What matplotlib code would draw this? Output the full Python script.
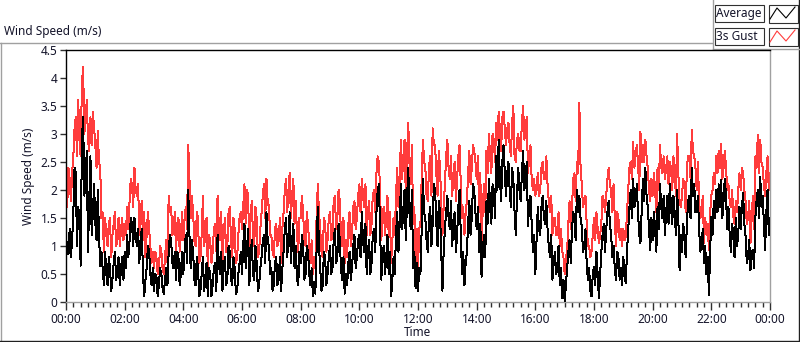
import numpy as np
import matplotlib
matplotlib.use("Agg")
import matplotlib.pyplot as plt
from matplotlib.patches import Rectangle
from matplotlib.ticker import MultipleLocator, FixedLocator

plt.rcParams['font.family'] = ['Noto Sans', 'DejaVu Sans']

# ---- data: samples on the 5-minute marks ----
avg_on_mark = [
    1.2, 0.85, 0.8, 1.6, 2.3, 1.7, 0.65, 3.3, 2.2, 0.9, 2.6, 1.6,
    1.4, 2.0, 0.65, 0.6, 0.9, 0.3, 0.6, 0.4, 0.9, 0.5, 0.3, 0.8,
    0.9, 1.2, 1.1, 1.4, 1.5, 1.0, 0.7, 1.3, 0.1, 0.6, 0.9, 0.3,
    0.2, 0.45, 0.3, 0.5, 0.15, 0.6, 0.9, 1.1, 0.6, 0.4, 0.8, 0.5,
    0.5, 1.2, 2.0, 0.6, 0.9, 0.3, 0.6, 0.2, 0.8, 0.4, 0.1, 0.5,
    0.3, 0.7, 1.2, 0.5, 0.2, 0.8, 0.4, 0.9, 0.3, 0.6, 0.2, 0.7,
    0.5, 1.4, 0.9, 0.3, 1.1, 0.4, 0.7, 0.3, 0.8, 1.2, 1.6, 1.0,
    0.6, 0.3, 0.8, 0.4, 0.2, 0.9, 1.5, 1.2, 0.7, 1.4, 1.0, 0.3,
    0.7, 1.0, 0.5, 0.9, 0.3, 0.1, 0.15, 1.7, 0.6, 0.3, 0.8, 0.5,
    1.0, 0.6, 1.3, 0.8, 1.1, 0.4, 0.15, 0.3, 0.9, 0.6, 1.2, 0.8,
    1.2, 1.6, 0.9, 0.5, 1.1, 0.7, 1.3, 1.6, 2.1, 0.4, 1.0, 0.8,
    0.5, 0.1, 0.8, 1.2, 0.9, 2.1, 1.6, 1.1, 2.4, 1.3, 0.6, 0.25,
    0.2, 0.5, 2.2, 1.5, 0.9, 1.7, 1.4, 2.0, 1.0, 1.6, 0.2, 1.3,
    1.9, 1.3, 1.0, 1.6, 1.2, 2.0, 0.5, 0.3, 0.9, 1.8, 1.5, 2.0,
    1.3, 0.9, 0.45, 1.2, 1.8, 2.2, 1.4, 2.0, 2.6, 2.9, 1.8, 2.8,
    1.9, 2.5, 1.7, 2.2, 1.2, 2.4, 1.8, 2.7, 2.2, 1.35, 1.9, 0.9,
    0.5, 1.7, 1.2, 1.9, 1.4, 1.3, 0.8, 0.4, 0.9, 0.6, 0.3, 0.07,
    0.0, 0.6, 1.1, 1.3, 1.5, 2.0, 1.9, 1.35, 1.0, 0.7, 0.6, 0.1,
    0.63, 0.9, 0.07, 0.9, 1.4, 1.3, 1.8, 1.2, 1.0, 0.39, 0.8, 0.6,
    0.8, 0.33, 1.3, 2.0, 2.2, 1.8, 1.6, 1.05, 2.2, 2.4, 1.7, 0.93,
    1.1, 1.3, 1.7, 2.1, 1.5, 1.2, 1.9, 2.1, 1.4, 1.6, 2.0, 0.57,
    0.9, 1.2, 1.4, 1.9, 2.4, 2.1, 1.6, 1.3, 1.0, 0.69, 0.5, 0.13,
    1.52, 1.8, 2.0, 2.1, 2.18, 1.8, 1.9, 1.7, 0.9, 1.17, 1.5, 1.2,
    1.3, 1.94, 1.17, 0.8, 0.57, 0.93, 1.5, 2.0, 2.24, 1.9, 0.93, 2.0, 1.5,
]
# readings half-way between the 5-minute marks
avg_between = [
    0.9, 1.3, 1.1, 2.4, 1.0, 1.5, 2.9, 1.9, 2.7, 1.8, 1.2, 2.1,
    1.1, 1.2, 0.9, 0.3, 0.5, 0.8, 0.2, 0.7, 0.4, 0.8, 0.6, 0.4,
    0.6, 0.8, 1.5, 1.0, 1.2, 1.3, 1.1, 0.5, 0.4, 1.0, 0.5, 0.6,
    0.5, 0.1, 0.6, 0.25, 0.4, 0.3, 1.2, 0.7, 0.9, 0.9, 0.3, 0.9,
    0.9, 0.7, 1.2, 1.1, 0.4, 0.8, 0.1, 0.5, 0.2, 0.7, 0.6, 0.1,
    0.6, 0.2, 0.7, 0.9, 0.6, 0.3, 1.0, 0.4, 0.8, 0.15, 0.5, 0.9,
    1.0, 0.6, 1.3, 0.8, 0.5, 1.0, 0.2, 0.6, 1.1, 0.7, 1.1, 0.5,
    0.2, 0.7, 0.3, 0.8, 0.6, 1.3, 0.8, 1.6, 1.1, 0.6, 0.4, 0.9,
    1.2, 0.4, 1.0, 0.5, 0.6, 0.35, 0.9, 1.0, 0.2, 0.9, 0.3, 0.8,
    0.5, 1.1, 0.7, 1.4, 0.6, 0.8, 0.5, 0.7, 0.4, 1.0, 0.6, 1.1,
    0.8, 1.1, 1.4, 0.9, 0.5, 1.2, 0.9, 2.0, 1.3, 0.9, 0.5, 1.2,
    0.9, 0.4, 0.5, 1.6, 1.4, 1.3, 2.0, 1.8, 1.6, 2.0, 0.9, 0.7,
    0.6, 1.3, 1.6, 1.1, 1.5, 1.0, 2.1, 1.4, 1.8, 0.9, 0.9, 1.6,
    1.5, 1.8, 1.4, 0.9, 1.7, 1.2, 0.9, 0.7, 1.4, 1.2, 2.1, 1.6,
    1.7, 1.4, 0.9, 0.8, 1.4, 1.7, 2.1, 1.5, 2.0, 2.2, 2.5, 2.3,
    2.3, 2.0, 2.4, 1.6, 1.9, 2.0, 2.3, 2.0, 2.5, 1.8, 1.4, 1.2,
    1.1, 1.3, 1.7, 1.5, 1.8, 1.0, 1.2, 0.7, 0.5, 1.0, 0.6, 0.4,
    0.3, 0.9, 0.7, 1.6, 1.1, 1.6, 1.5, 0.9, 1.3, 0.4, 0.2, 0.5,
    0.3, 0.5, 0.5, 1.2, 0.9, 1.6, 1.4, 0.8, 0.6, 0.9, 0.4, 0.3,
    0.5, 0.9, 1.7, 1.5, 1.7, 2.1, 1.2, 1.6, 1.8, 1.9, 1.3, 1.5,
    1.6, 0.9, 1.3, 1.7, 1.9, 1.6, 1.4, 1.7, 1.9, 1.2, 1.5, 1.2,
    1.4, 0.8, 1.8, 1.5, 1.9, 1.6, 1.9, 0.9, 1.3, 1.0, 0.8, 0.9,
    1.2, 1.5, 1.6, 1.7, 1.5, 2.2, 1.3, 1.2, 1.4, 0.8, 1.0, 1.7,
    1.7, 1.4, 0.7, 1.1, 0.9, 0.6, 1.8, 1.5, 1.7, 1.4, 1.6, 1.2,
]
gust_on_mark = [
    2.0, 2.4, 1.8, 2.6, 3.3, 3.6, 2.6, 4.2, 3.3, 2.9, 3.3, 3.4,
    2.8, 3.05, 2.4, 1.6, 1.5, 1.0, 1.5, 1.2, 1.6, 1.1, 1.0, 1.5,
    1.4, 1.7, 1.8, 2.1, 2.4, 1.9, 1.2, 1.8, 1.6, 1.2, 1.3, 0.7,
    0.6, 0.8, 0.6, 0.9, 0.5, 1.1, 1.9, 1.7, 1.3, 0.9, 1.5, 1.2,
    1.1, 1.7, 2.8, 1.5, 1.6, 1.0, 1.5, 0.8, 1.9, 1.2, 0.6, 1.1,
    0.9, 1.4, 1.9, 1.1, 0.7, 1.5, 1.0, 1.7, 0.8, 1.3, 0.8, 1.5,
    1.3, 2.1, 2.0, 0.9, 1.8, 1.0, 1.5, 0.9, 1.6, 2.1, 2.2, 1.7,
    1.2, 0.8, 1.4, 1.1, 0.7, 1.6, 2.2, 2.0, 1.5, 2.2, 1.8, 0.9,
    1.5, 1.6, 1.0, 1.4, 0.7, 0.5, 0.6, 2.1, 1.3, 0.8, 1.4, 1.1,
    1.6, 1.2, 1.9, 1.5, 1.8, 1.0, 0.7, 0.8, 1.6, 1.2, 1.8, 1.5,
    2.1, 2.2, 1.7, 1.2, 1.8, 1.4, 2.0, 2.3, 2.5, 1.1, 1.7, 1.5,
    1.2, 0.7, 1.5, 1.9, 1.7, 2.9, 2.6, 1.9, 3.2, 2.1, 1.4, 0.7,
    0.6, 1.4, 2.9, 2.4, 1.8, 2.6, 3.1, 2.8, 1.9, 2.4, 1.2, 2.1,
    2.9, 2.2, 1.9, 2.5, 2.2, 2.8, 1.5, 1.2, 1.8, 2.7, 2.4, 2.7,
    2.2, 1.6, 0.9, 2.1, 2.7, 3.0, 2.3, 2.9, 3.2, 3.4, 2.7, 3.4,
    2.8, 3.2, 2.6, 3.5, 2.5, 3.0, 2.7, 3.5, 3.1, 2.3, 2.8, 2.0,
    1.9, 2.3, 2.0, 2.5, 2.2, 2.1, 1.6, 1.2, 1.5, 1.2, 1.0, 0.9,
    0.5, 0.9, 1.8, 1.7, 2.3, 2.5, 3.55, 2.1, 1.8, 1.4, 1.0, 0.9,
    1.5, 1.6, 1.05, 1.4, 1.8, 1.9, 2.4, 2.0, 2.1, 1.0, 1.5, 1.3,
    1.3, 1.17, 2.0, 2.5, 2.86, 2.6, 2.5, 3.04, 2.8, 2.9, 2.4, 1.8,
    1.9, 2.0, 2.4, 2.8, 2.3, 2.2, 2.6, 2.5, 2.0, 2.3, 3.0, 1.8,
    1.9, 2.1, 2.4, 2.6, 3.07, 2.6, 2.0, 1.8, 1.6, 1.05, 1.2, 0.93,
    1.9, 2.3, 2.6, 2.7, 2.83, 2.4, 2.42, 2.1, 1.7, 1.52, 1.8, 2.0,
    2.0, 2.3, 1.8, 1.5, 1.05, 1.9, 2.6, 2.98, 2.9, 2.4, 1.9, 2.6, 2.3,
]
gust_between = [
    1.7, 2.2, 2.3, 3.1, 2.6, 2.9, 3.9, 3.0, 3.6, 2.7, 2.8, 3.1,
    2.4, 2.5, 1.5, 0.9, 1.2, 1.4, 0.8, 1.4, 1.0, 1.5, 1.3, 1.1,
    1.2, 1.3, 2.2, 1.7, 2.0, 2.1, 1.6, 1.1, 0.8, 1.6, 1.0, 0.9,
    0.9, 0.5, 1.0, 0.6, 0.8, 0.7, 1.6, 1.2, 1.6, 1.4, 0.9, 1.6,
    1.5, 1.3, 2.2, 1.9, 1.1, 1.6, 0.7, 1.2, 1.0, 1.5, 1.2, 0.7,
    1.3, 0.9, 1.4, 1.6, 1.2, 0.9, 1.6, 1.1, 1.5, 0.7, 1.2, 1.6,
    1.7, 1.4, 1.9, 1.5, 1.2, 1.7, 0.8, 1.3, 1.9, 1.5, 1.8, 1.2,
    0.9, 1.3, 1.0, 1.5, 1.3, 2.0, 1.6, 2.3, 1.9, 1.4, 1.2, 1.5,
    1.9, 1.1, 1.6, 1.0, 1.1, 0.8, 1.5, 1.6, 0.9, 1.5, 0.9, 1.5,
    1.1, 1.8, 1.3, 2.0, 1.2, 1.5, 1.1, 1.4, 1.0, 1.7, 1.3, 1.9,
    1.6, 1.9, 2.1, 1.6, 1.2, 1.9, 1.6, 2.6, 2.0, 1.6, 1.2, 1.9,
    1.6, 1.1, 1.2, 2.4, 2.2, 2.2, 2.9, 2.6, 2.5, 2.8, 1.7, 1.3,
    1.3, 2.2, 2.5, 1.9, 2.4, 1.9, 2.8, 2.3, 2.7, 1.8, 1.7, 2.6,
    2.4, 2.6, 2.3, 1.8, 2.6, 2.1, 1.7, 1.6, 2.3, 2.1, 2.8, 2.5,
    2.6, 2.3, 1.7, 1.6, 2.3, 2.6, 3.0, 2.5, 2.9, 3.1, 3.3, 3.1,
    3.1, 2.8, 3.2, 2.6, 2.9, 2.7, 3.2, 2.9, 3.3, 2.6, 2.2, 2.2,
    2.0, 1.9, 2.4, 2.2, 2.6, 1.8, 1.9, 1.5, 1.2, 1.6, 1.3, 0.8,
    0.8, 1.4, 1.3, 2.2, 1.8, 2.3, 2.4, 1.7, 1.9, 1.0, 0.8, 1.2,
    1.1, 1.3, 1.2, 1.9, 1.6, 2.2, 2.1, 1.6, 1.5, 1.6, 1.1, 1.0,
    1.1, 1.6, 2.4, 2.2, 2.4, 2.8, 2.0, 2.5, 2.5, 2.6, 2.0, 2.2,
    2.3, 1.6, 2.0, 2.4, 2.6, 2.4, 2.1, 2.4, 2.6, 1.9, 2.3, 1.7,
    2.2, 1.6, 2.6, 2.2, 2.7, 2.4, 2.5, 1.5, 1.9, 1.5, 1.4, 1.6,
    2.0, 2.1, 2.3, 2.4, 2.2, 2.7, 2.0, 1.8, 2.0, 1.4, 1.6, 2.3,
    2.4, 2.0, 1.4, 1.8, 1.5, 1.3, 2.4, 2.3, 2.5, 2.1, 2.3, 2.0,
]

x_ticks = [0, 2, 4, 6, 8, 10, 12, 14, 16, 18, 20, 22, 24]
x_tick_labels = ["00:00", "02:00", "04:00", "06:00", "08:00", "10:00", "12:00",
                 "14:00", "16:00", "18:00", "20:00", "22:00", "00:00"]
y_ticks = [0, 0.5, 1, 1.5, 2, 2.5, 3, 3.5, 4, 4.5]
y_tick_labels = ["0", "0.5", "1", "1.5", "2", "2.5", "3", "3.5", "4", "4.5"]


def merge(on_mark, between):
    out = np.empty(len(on_mark) + len(between))
    out[0::2] = on_mark
    out[1::2] = between
    return out


avg_speed = merge(avg_on_mark, avg_between)
gust_speed = merge(gust_on_mark, gust_between)
time_hours = np.arange(len(avg_speed)) * (2.5 / 60.0)

W, H = 800, 342
fig = plt.figure(figsize=(W / 100, H / 100), dpi=100)
fig.patch.set_facecolor('white')

txt_color = '#14142a'

# overlay in pixel coordinates for frame, title and legend
ov = fig.add_axes([0, 0, 1, 1], zorder=0)
ov.set_xlim(0, W)
ov.set_ylim(H, 0)
ov.axis('off')

gray = '#a0a0a0'
dark = '#202020'
ov.plot([0, 712], [42.5, 42.5], color=gray, lw=1.0)
ov.plot([0.5, 0.5], [42.5, 341], color=gray, lw=1.0)
ov.plot([0, 800], [340.5, 340.5], color=dark, lw=1.0)
ov.plot([798.5, 798.5], [0, 341], color=dark, lw=1.0)
ov.plot([712.5, 712.5], [0, 49], color=gray, lw=1.0)
ov.plot([712.5, 800], [49, 49], color=gray, lw=1.0)

ov.text(4, 32, "Wind Speed (m/s)", fontsize=8.5, color=txt_color, ha='left', va='center')

# legend boxes
legend_items = [("Average", 'black', 4), ("3s Gust", '#ff3c3c', 27)]
for label, col, top in legend_items:
    ov.add_patch(Rectangle((714.5, top + 0.5), 49, 17, facecolor='white', edgecolor='#303030', lw=0.8))
    ov.text(716, top + 9.5, label, fontsize=8.5, color=txt_color, ha='left', va='center')
    ov.add_patch(Rectangle((768.5, top + 0.5), 29, 18, facecolor='white', edgecolor='#303030', lw=0.8))
    ov.plot([770, 777, 786, 795], [top + 15, top + 4, top + 14, top + 3], color=col, lw=0.8)

# main chart
left, right, top_px, bottom_px = 66, 770, 50, 302
ax = fig.add_axes([left / W, (H - bottom_px) / H, (right - left) / W, (bottom_px - top_px) / H], zorder=1)
ax.set_facecolor('white')
ax.plot(time_hours, gust_speed, color='#ff3c3c', lw=0.72, antialiased=False, zorder=2)
ax.plot(time_hours, avg_speed, color='black', lw=0.72, antialiased=False, zorder=3)
ax.set_xlim(0, 24)
ax.set_ylim(0, 4.5)

ax.xaxis.set_major_locator(FixedLocator(x_ticks))
ax.set_xticklabels(x_tick_labels)
ax.xaxis.set_minor_locator(MultipleLocator(0.25))
ax.yaxis.set_major_locator(FixedLocator(y_ticks))
ax.set_yticklabels(y_tick_labels)

ax.tick_params(axis='x', which='major', direction='out', length=6, width=1, color='#303030',
               labelsize=8.5, labelcolor=txt_color, pad=2)
ax.tick_params(axis='x', which='minor', direction='out', length=3.5, width=1, color='#303030')
ax.tick_params(axis='y', which='major', direction='out', length=4, width=1, color='#303030',
               labelsize=8.5, labelcolor=txt_color, pad=2)

for s in ['top', 'left']:
    ax.spines[s].set_color('black')
    ax.spines[s].set_linewidth(1.0)
for s in ['right', 'bottom']:
    ax.spines[s].set_color(gray)
    ax.spines[s].set_linewidth(1.0)

ax.set_xlabel("Time", fontsize=8.5, color=txt_color, labelpad=0)
ax.set_ylabel("Wind Speed (m/s)", fontsize=8.5, color=txt_color, labelpad=4)

fig.savefig("out.png", dpi=100, facecolor='white')
